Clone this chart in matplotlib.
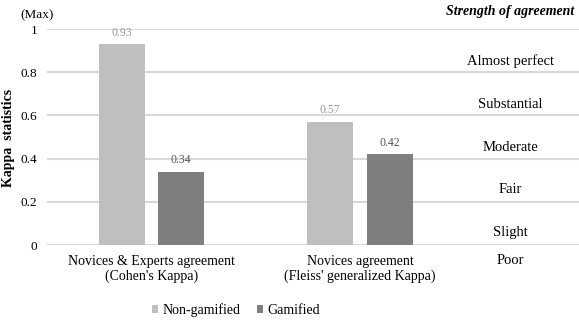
import matplotlib
matplotlib.use("Agg")
import matplotlib.pyplot as plt
import numpy as np

categories = ["Novices & Experts agreement\n(Cohen's Kappa)",
              "Novices agreement\n(Fleiss' generalized Kappa)"]
non_gamified = [0.93, 0.57]
gamified = [0.34, 0.42]
yticks = [0, 0.2, 0.4, 0.6, 0.8, 1]
ytick_labels = ["0", "0.2", "0.4", "0.6", "0.8", "1"]
strength_labels = ["Almost perfect", "Substantial", "Moderate", "Fair", "Slight", "Poor"]
strength_levels = [0.85, 0.65, 0.45, 0.255, 0.06, -0.07]

plt.rcParams['font.family'] = ['Liberation Serif', 'DejaVu Serif']

fig = plt.figure(figsize=(5.79, 3.2), dpi=100)
ax = fig.add_axes([47/579, 1 - 245/320, 532/579, 216/320])

x = np.arange(len(categories))
w = 0.22
off = 0.142
b1 = ax.bar(x - off, non_gamified, w, color='#bfbfbf', label='Non-gamified', zorder=3)
b2 = ax.bar(x + off, gamified, w, color='#7f7f7f', label='Gamified', zorder=3)

for rect, v in zip(b1, non_gamified):
    ax.text(rect.get_x() + rect.get_width() / 2, v + 0.025, f"{v:.2f}",
            ha='center', va='bottom', fontsize=8.5, color='#999999')
for rect, v in zip(b2, gamified):
    ax.text(rect.get_x() + rect.get_width() / 2, v + 0.025, f"{v:.2f}",
            ha='center', va='bottom', fontsize=8.5, color='#555555')

ax.set_xlim(-0.5, 2.05)
ax.set_ylim(0, 1)
ax.set_yticks(yticks)
ax.set_yticklabels(ytick_labels, fontsize=9.5)
ax.set_xticks(x)
ax.set_xticklabels(categories, fontsize=10, linespacing=1.15)
ax.tick_params(length=0)
ax.tick_params(axis='y', pad=7)
ax.tick_params(axis='x', pad=7)
ax.grid(axis='y', color='#d9d9d9', linewidth=1.5, zorder=0)
for s in ax.spines.values():
    s.set_visible(False)
ax.axhline(0, color='#d9d9d9', linewidth=1.5, zorder=0)

ax.set_ylabel("Kappa  statistics", fontsize=10, fontweight='bold')
ax.yaxis.set_label_coords(-0.06, 0.495)

# strength of agreement scale on the right
sx = 1.72
ax.text(sx, 1.08, "Strength of agreement", ha='center', va='center',
        fontsize=10, fontweight='bold', fontstyle='italic', clip_on=False)
for lab, lv in zip(strength_labels, strength_levels):
    ax.text(sx, lv, lab, ha='center', va='center', fontsize=10.5, clip_on=False)

fig.text(37/579, 1 - 15/320, "(Max)", ha='center', va='center', fontsize=9.5)

fig.legend(handles=[b1, b2], loc='center', bbox_to_anchor=(236/579, 1 - 310/320),
           ncol=2, frameon=False, fontsize=10, handlelength=0.45, handleheight=0.45,
           handletextpad=0.3, columnspacing=1.2)

fig.savefig("out.png", dpi=100)
